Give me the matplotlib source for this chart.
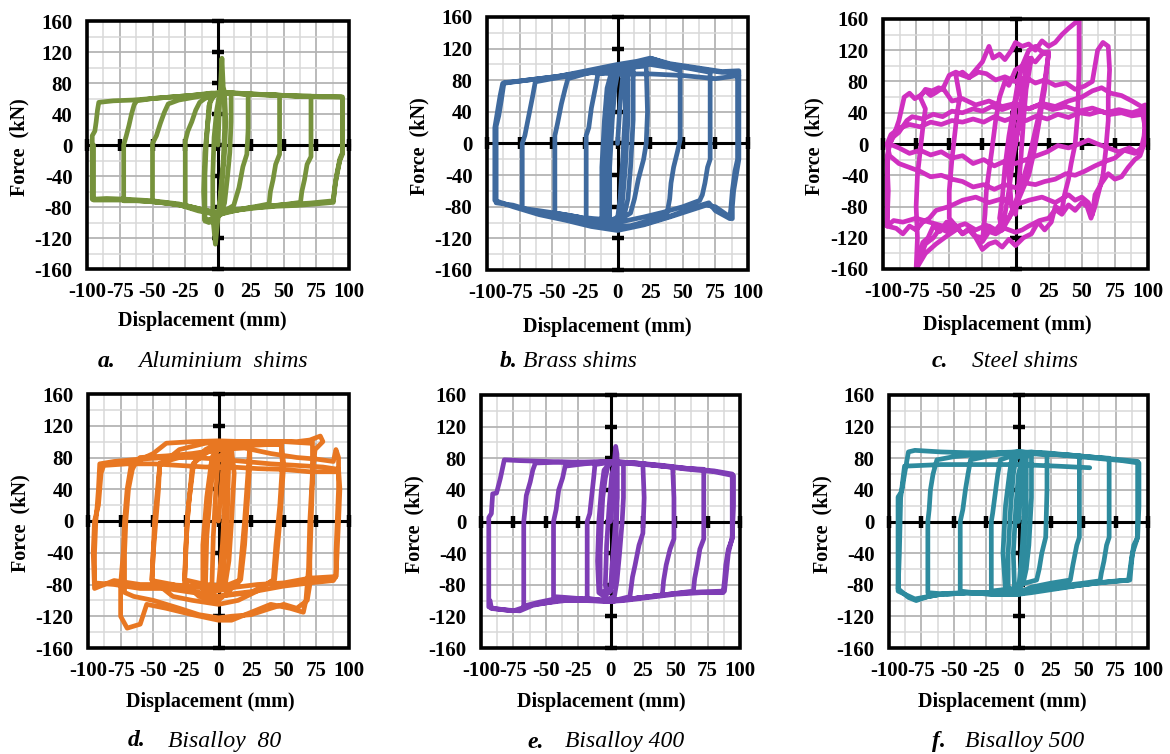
import numpy as np
import matplotlib
matplotlib.use("Agg")
import matplotlib.pyplot as plt
from matplotlib.patches import Rectangle

# ---------------- data (displacement mm, force kN) ----------------
aluminium = [
    (0, 0), (1, 45), (3, 112), (4, 75), (5, 68), (5, 20), (4, -20), (2, -60), (0, -95), (-2, -128),
    (-3, -110), (-4, -92), (-4, -40), (-3, 10), (-1, 45), (1, 65), (5, 68), (6, 30), (5, -10), (3, -50),
    (1, -85), (-3, -98), (-7, -100), (-10, -98), (-10, -40), (-9, 0), (-8, 25), (-7, 50), (-5, 62), (0, 67),
    (5, 68), (10, 67), (10, 30), (9, -10), (7, -45), (5, -75), (2, -90), (-3, -95), (-10, -97), (-11, -60),
    (-10, -10), (-8, 25), (-6, 55), (-3, 64), (5, 68), (12, 67), (23, 65), (23, 20), (22, -12), (19, -28),
    (16, -55), (12, -78), (5, -85), (0, -88), (-8, -86), (-15, -82), (-25, -78), (-25, -30), (-25, 5),
    (-23, 18), (-20, 30), (-17, 45), (-14, 55), (-10, 60), (-5, 63), (0, 66), (10, 67), (25, 66), (35, 65),
    (47, 64), (47, 20), (47, -12), (44, -25), (42, -45), (40, -60), (39, -76), (30, -79), (20, -82),
    (10, -86), (0, -90), (-10, -86), (-25, -79), (-38, -75), (-50, -73), (-50, -30), (-50, 2), (-47, 12),
    (-44, 28), (-41, 42), (-38, 53), (-30, 58), (-20, 61), (-10, 64), (0, 67), (15, 67), (30, 65), (50, 64),
    (60, 63), (71, 63), (71, 20), (71, -15), (68, -25), (66, -45), (64, -60), (63, -74), (50, -77), (40, -79),
    (25, -81), (10, -84), (0, -87), (-15, -83), (-30, -77), (-45, -74), (-60, -72), (-72, -72), (-72, -30),
    (-72, 0), (-70, 12), (-68, 25), (-66, 40), (-64, 52), (-62, 57), (-50, 60), (-35, 62), (-20, 64), (0, 67),
    (20, 66), (40, 65), (60, 63), (80, 62), (94, 62), (95, 60), (95, 20), (95, -10), (93, -18), (91, -35),
    (89, -55), (88, -74), (75, -76), (60, -78), (45, -79), (30, -81), (15, -84), (0, -88), (-15, -82),
    (-30, -76), (-50, -72), (-70, -70), (-85, -69), (-96, -70), (-96, -30), (-96, 12), (-94, 18), (-93, 30),
    (-92, 45), (-91, 55), (-80, 57), (-65, 58), (-50, 60), (-35, 62), (-20, 64), (-5, 67), (10, 67),
    (30, 65), (50, 64), (70, 63), (94, 62), (95, 62), (95, 20), (95, -12), (93, -20), (90, -45), (88, -72),
    (70, -75), (50, -77), (30, -80), (10, -85), (0, -90), (-15, -85), (-30, -77), (-50, -73), (-70, -71),
    (-95, -71), (-95, 0),
]

brass = [
    (0, 0), (2, 50), (4, 85), (6, 90), (6, 40), (4, -20), (2, -70), (0, -95), (-4, -98), (-6, -95),
    (-6, -30), (-4, 30), (-2, 70), (0, 88), (5, 92), (8, 92), (8, 30), (6, -30), (4, -70), (2, -92),
    (-5, -97), (-9, -95), (-9, -30), (-7, 30), (-5, 70), (-2, 88), (5, 92), (12, 93), (12, 30), (10, -30),
    (8, -70), (5, -92), (-5, -98), (-12, -95), (-12, -30), (-10, 30), (-8, 70), (-5, 88), (5, 95),
    (15, 97), (22, 98), (23, 40), (22, 0), (20, -20), (16, -45), (13, -70), (10, -88), (0, -98), (-10, -96),
    (-18, -95), (-24, -94), (-24, -30), (-24, 10), (-22, 20), (-20, 45), (-17, 70), (-15, 88), (-8, 90),
    (0, 95), (10, 97), (25, 100), (40, 96), (48, 92), (48, 40), (48, 5), (46, -10), (43, -30), (41, -50),
    (40, -70), (38, -88), (25, -97), (10, -104), (0, -105), (-15, -100), (-30, -93), (-48, -88), (-48, -30),
    (-48, 10), (-46, 25), (-43, 50), (-40, 70), (-38, 82), (-25, 88), (-10, 93), (0, 97), (15, 100),
    (25, 103), (40, 99), (55, 95), (71, 90), (71, 40), (71, -20), (69, -30), (67, -50), (65, -65), (63, -72),
    (50, -80), (35, -87), (20, -93), (0, -100), (-20, -96), (-40, -90), (-60, -85), (-73, -82), (-73, -30),
    (-73, 0), (-71, 10), (-68, 35), (-65, 60), (-63, 78), (-50, 82), (-35, 86), (-20, 90), (0, 96),
    (20, 103), (27, 107), (40, 100), (60, 95), (80, 90), (92, 90), (92, 40), (92, -20), (90, -35),
    (88, -60), (87, -80), (86, -95), (75, -85), (70, -75), (60, -80), (40, -92), (20, -102), (0, -108),
    (-20, -102), (-40, -95), (-60, -88), (-80, -78), (-93, -75), (-93, -30), (-93, 22), (-91, 35),
    (-89, 55), (-87, 77), (-75, 79), (-60, 82), (-45, 85), (-30, 90), (-15, 95), (0, 100), (15, 104),
    (25, 108), (40, 101), (60, 96), (80, 91), (93, 92), (93, 40), (93, -20), (91, -40), (89, -60),
    (88, -80), (88, -95), (75, -80), (68, -78), (55, -85), (40, -93), (20, -103), (0, -110), (-20, -105),
    (-40, -97), (-60, -90), (-80, -80), (-94, -72), (-94, 0), (-94, 20), (-92, 40), (-90, 60), (-88, 76),
    (-70, 80), (-50, 84), (-25, 90), (0, 88), (25, 88), (50, 86), (75, 82), (93, 86),
]

steel = [
    (0, 0), (3, 30), (5, 60), (3, 80), (0, 50), (-3, 0), (-5, -40), (-3, -80), (0, -90), (2, -60), (4, -20),
    (6, 30), (8, 70), (10, 90), (12, 110), (8, 100), (5, 60), (2, 20), (-2, -20), (-5, -60), (-8, -90),
    (-10, -110), (-12, -95), (-10, -70), (-8, -30), (-5, 10), (-2, 40), (2, 80), (5, 100), (10, 120),
    (15, 125), (20, 118), (25, 115), (22, 80), (18, 40), (14, 10), (10, -20), (5, -50), (0, -75), (-5, -95),
    (-10, -110), (-15, -115), (-20, -112), (-25, -125), (-23, -90), (-22, -60), (-18, -10), (-15, 30),
    (-12, 60), (-8, 80), (-5, 75), (0, 95), (5, 100), (10, 110), (15, 105), (20, 115), (25, 118),
    (22, 70), (18, 30), (14, -10), (10, -40), (5, -60), (0, -80), (-5, -95), (-10, -100), (-15, -110),
    (-20, -105), (-25, -120), (-30, -118), (-35, -108), (-40, -115), (-45, -105), (-50, -95),
    (-50, -60), (-48, -20), (-46, 10), (-44, 40), (-42, 60), (-45, 88), (-40, 92), (-35, 85), (-30, 95),
    (-25, 105), (-20, 125), (-17, 110), (-12, 115), (-8, 108), (-3, 120), (0, 130), (5, 125), (10, 128),
    (15, 120), (20, 132), (25, 125), (30, 130), (35, 140), (40, 148), (45, 155), (48, 160), (48, 100),
    (47, 40), (45, 0), (42, -25), (40, -45), (37, -65), (35, -85), (30, -80), (27, -100), (22, -110),
    (17, -100), (12, -115), (6, -120), (0, -130), (-5, -122), (-10, -132), (-15, -125), (-20, -128),
    (-25, -135), (-30, -120), (-35, -110), (-40, -115), (-45, -105), (-52, -112), (-57, -108),
    (-62, -120), (-68, -128), (-75, -160), (-74, -120), (-75, -80), (-74, -40), (-72, -10), (-70, 20),
    (-68, 45), (-72, 60), (-68, 70), (-63, 68), (-58, 72), (-55, 70), (-50, 88), (-45, 92), (-40, 88),
    (-35, 85), (-28, 92), (-22, 90), (-15, 82), (-8, 86), (0, 80), (8, 85), (15, 78), (22, 82), (30, 75),
    (38, 78), (45, 70), (52, 74), (58, 80), (62, 120), (66, 130), (70, 125), (71, 95), (70, 60), (70, 30),
    (68, -10), (66, -40), (63, -60), (60, -80), (57, -95), (54, -80), (50, -75), (45, -85), (40, -78),
    (35, -90), (30, -84), (25, -95), (18, -98), (10, -105), (5, -110), (0, -113), (-8, -108),
    (-15, -112), (-22, -104), (-30, -110), (-38, -102), (-45, -106), (-52, -100), (-57, -112),
    (-62, -105), (-66, -120), (-70, -126), (-75, -160), (-68, -140), (-60, -128), (-52, -118),
    (-45, -110), (-55, -105), (-65, -100), (-75, -95), (-85, -100), (-92, -98), (-97, -105),
    (-96, -60), (-97, -20), (-95, 0), (-92, 10), (-88, 30), (-84, 60), (-80, 65), (-76, 58), (-72, 62),
    (-68, 68), (-64, 62), (-60, 66), (-55, 72), (-48, 55), (-40, 58), (-30, 50), (-20, 55), (-10, 48),
    (0, 52), (10, 45), (20, 52), (30, 48), (40, 55), (50, 60), (58, 68), (65, 72), (72, 65), (80, 62),
    (88, 55), (95, 48), (98, 50), (98, 20), (97, 0), (94, -15), (90, -20), (85, -30), (80, -42), (75, -45),
    (70, -38), (65, -50), (60, -65), (58, -90), (55, -75), (50, -68), (45, -72), (40, -65), (30, -75),
    (20, -68), (10, -72), (0, -78), (-10, -70), (-20, -75), (-30, -68), (-40, -72), (-50, -80),
    (-60, -85), (-65, -95), (-70, -100), (-75, -110), (-80, -105), (-85, -115), (-90, -108),
    (-97, -105), (-97, -40), (-96, -5), (-93, 8), (-88, 15), (-82, 30), (-78, 35), (-70, 32), (-62, 38),
    (-55, 35), (-48, 42), (-40, 40), (-32, 45), (-25, 42), (-18, 48), (-10, 44), (0, 50), (10, 45),
    (18, 50), (28, 44), (38, 48), (48, 42), (58, 46), (68, 40), (78, 44), (88, 40), (97, 45), (98, 30),
    (97, 10), (95, -5), (90, -12), (82, -8), (75, -18), (68, -22), (60, -28), (52, -35), (45, -40),
    (38, -38), (30, -45), (22, -48), (15, -52), (8, -50), (0, -56), (-8, -52), (-16, -58), (-24, -52),
    (-32, -55), (-40, -48), (-48, -45), (-56, -40), (-64, -42), (-72, -35), (-80, -30), (-88, -25),
    (-95, -15), (-97, 0), (-94, 12), (-88, 20), (-80, 25), (-72, 22), (-64, 28), (-56, 25), (-48, 30),
    (-40, 28), (-32, 32), (-24, 28), (-16, 35), (-8, 30), (0, 35), (8, 30), (16, 36), (24, 32), (32, 38),
    (40, 34), (48, 40), (56, 38), (64, 42), (72, 38), (80, 40), (88, 36), (96, 38), (98, 20), (97, 0),
    (93, -12), (86, -5), (78, -10), (70, -5), (62, 0), (55, 5), (48, 0), (40, -5), (32, -2), (24, -10),
    (16, -15), (8, -20), (0, -25), (-8, -22), (-16, -28), (-24, -20), (-32, -25), (-40, -15), (-48, -18),
    (-56, -10), (-64, -14), (-72, -8), (-80, -12), (-88, -5), (-95, 0),
]

bisalloy80 = [
    (0, 0), (2, 40), (4, 80), (6, 90), (5, 30), (3, -30), (0, -80), (-3, -85), (-5, -80), (-4, -20), (-2, 40),
    (0, 80), (5, 88), (8, 85), (7, 20), (5, -40), (2, -80), (-5, -85), (-10, -82), (-9, -20), (-6, 40),
    (-3, 80), (0, 92), (10, 90), (12, 60), (10, 0), (8, -50), (5, -82), (-5, -90), (-12, -85), (-12, -30),
    (-9, 30), (-5, 80), (0, 95), (10, 95), (24, 92), (24, 72), (22, 20), (20, -30), (17, -74), (5, -82),
    (-10, -80), (-26, -74), (-25, -30), (-23, 20), (-19, 73), (-10, 85), (0, 95), (12, 97), (24, 95),
    (23, 70), (20, 0), (16, -76), (0, -100), (-15, -95), (-26, -78), (-24, 0), (-20, 70), (-10, 90),
    (0, 98), (15, 100), (30, 98), (48, 96), (49, 72), (47, 20), (44, -30), (42, -74), (30, -88),
    (15, -100), (0, -105), (-20, -100), (-35, -95), (-51, -74), (-50, -40), (-48, 0), (-46, 40), (-45, 73),
    (-30, 80), (-15, 85), (0, 90), (20, 95), (48, 97), (50, 72), (47, 0), (43, -74), (25, -90), (0, -95),
    (-20, -88), (-35, -80), (-51, -75), (-49, 0), (-45, 70), (-30, 90), (-10, 98), (10, 100), (30, 100),
    (50, 100), (70, 98), (72, 100), (72, 50), (71, 0), (70, -50), (70, -80), (68, -100), (60, -110),
    (50, -105), (40, -110), (25, -118), (10, -120), (0, -122), (-15, -118), (-30, -110), (-50, -100),
    (-65, -95), (-72, -90), (-72, -40), (-71, 0), (-69, 40), (-66, 65), (-63, 75), (-50, 85), (-40, 98),
    (-20, 100), (0, 101), (20, 100), (40, 100), (60, 100), (70, 102), (78, 107), (80, 100), (74, 90),
    (72, 60), (70, 0), (69, -60), (67, -100), (65, -115), (55, -110), (40, -105), (25, -115), (10, -125),
    (0, -125), (-20, -118), (-40, -110), (-55, -105), (-60, -130), (-70, -135), (-75, -120), (-75, -80),
    (-73, -40), (-72, 0), (-70, 40), (-67, 70), (-60, 80), (-40, 82), (-20, 85), (0, 90), (20, 92),
    (40, 85), (60, 80), (75, 78), (88, 75), (90, 90), (92, 80), (92, 40), (91, 0), (90, -40), (90, -70),
    (88, -75), (70, -78), (50, -82), (30, -88), (10, -92), (0, -95), (-20, -90), (-40, -85), (-60, -85),
    (-80, -80), (-95, -78), (-95, -40), (-94, 0), (-93, 18), (-92, 40), (-91, 72), (-80, 75), (-60, 78),
    (-40, 80), (-20, 80), (0, 78), (20, 75), (40, 72), (60, 70), (80, 68), (92, 65), (93, 40), (92, 0),
    (90, -70), (70, -72), (50, -78), (30, -80), (10, -84), (0, -88), (-20, -82), (-40, -80), (-60, -80),
    (-80, -75), (-95, -85), (-96, -40), (-95, 0), (-92, 20), (-90, 60), (-88, 70), (-70, 72), (-50, 72),
    (-30, 70), (-10, 68), (10, 68), (30, 66), (50, 65), (70, 62), (90, 62),
]

bisalloy400 = [
    (0, 0), (2, 40), (3, 75), (4, 95), (5, 85), (5, 30), (3, -20), (1, -60), (0, -88), (-3, -92), (-4, -80),
    (-3, -30), (-1, 20), (1, 60), (4, 75), (5, 72), (5, 20), (4, -40), (2, -80), (-2, -90), (-8, -88),
    (-8, -40), (-7, 0), (-6, 30), (-4, 55), (-2, 70), (0, 74), (6, 74), (10, 72), (10, 30), (9, 0),
    (7, -40), (5, -75), (3, -95), (-2, -98), (-9, -90), (-10, -50), (-9, 0), (-7, 40), (-5, 65), (0, 75),
    (10, 74), (25, 72), (26, 30), (25, -15), (22, -30), (19, -55), (17, -70), (15, -95), (0, -101),
    (-10, -99), (-18, -97), (-18, -40), (-18, 0), (-16, 10), (-14, 40), (-13, 55), (-12, 72), (0, 75),
    (15, 74), (30, 72), (48, 69), (49, 30), (49, -22), (46, -35), (43, -55), (41, -75), (40, -93),
    (25, -96), (10, -99), (0, -101), (-20, -98), (-35, -96), (-44, -95), (-44, -40), (-44, 0), (-42, 15),
    (-40, 40), (-37, 55), (-35, 70), (-20, 73), (0, 75), (20, 73), (40, 70), (60, 67), (72, 66), (72, 30),
    (72, -22), (69, -35), (67, -55), (65, -72), (64, -88), (50, -91), (30, -95), (10, -99), (0, -100),
    (-20, -98), (-40, -97), (-55, -102), (-67, -107), (-67, -40), (-67, 0), (-66, 15), (-65, 33),
    (-62, 50), (-60, 65), (-58, 74), (-40, 75), (-20, 75), (0, 76), (20, 74), (40, 71), (60, 67),
    (80, 64), (94, 60), (94, 30), (94, -22), (91, -35), (89, -55), (88, -75), (87, -90), (70, -90),
    (50, -92), (30, -96), (10, -100), (0, -101), (-20, -100), (-40, -100), (-60, -106), (-70, -113),
    (-80, -112), (-90, -110), (-94, -108), (-94, -60), (-94, 5), (-92, 10), (-91, 35), (-88, 36),
    (-85, 55), (-82, 78), (-70, 77), (-50, 76), (-30, 75), (-10, 75), (0, 76), (20, 74), (40, 70),
    (60, 66), (80, 63), (95, 58), (95, 20), (94, -20), (91, -40), (88, -88), (70, -89), (50, -91),
    (30, -95), (0, -101), (-30, -99), (-60, -105), (-75, -113), (-92, -110), (-93, -100),
]

bisalloy500 = [
    (0, 0), (2, 40), (4, 80), (5, 85), (5, 30), (3, -30), (1, -70), (0, -85), (-3, -88), (-4, -40), (-2, 20),
    (0, 60), (3, 80), (6, 82), (6, 20), (4, -40), (2, -75), (-2, -85), (-8, -88), (-8, -40), (-6, 20),
    (-4, 60), (-2, 80), (3, 85), (10, 83), (10, 30), (8, -30), (6, -60), (4, -75), (0, -88), (-10, -88),
    (-12, -40), (-10, 20), (-7, 60), (-5, 82), (0, 87), (10, 86), (22, 84), (22, 40), (21, -20),
    (18, -40), (16, -60), (14, -74), (5, -78), (-5, -85), (-21, -88), (-21, -30), (-21, 0), (-20, 10),
    (-18, 35), (-16, 60), (-14, 78), (0, 86), (10, 88), (25, 85), (47, 83), (47, 40), (47, -20),
    (45, -30), (42, -55), (40, -74), (25, -78), (10, -83), (0, -90), (-20, -90), (-35, -90), (-45, -88),
    (-45, -40), (-45, 0), (-43, 15), (-41, 40), (-39, 60), (-37, 78), (-20, 84), (0, 88), (20, 86),
    (40, 84), (60, 81), (70, 80), (70, 40), (70, -20), (68, -30), (66, -50), (64, -65), (63, -75),
    (50, -78), (30, -82), (10, -88), (0, -92), (-20, -92), (-40, -90), (-55, -92), (-70, -90), (-70, -40),
    (-70, 0), (-69, 15), (-68, 40), (-66, 60), (-63, 78), (-50, 82), (-30, 85), (0, 88), (20, 87),
    (40, 84), (60, 81), (80, 78), (92, 76), (92, 40), (92, -20), (89, -30), (87, -50), (85, -74),
    (70, -76), (50, -80), (30, -85), (10, -90), (0, -92), (-20, -92), (-40, -90), (-56, -91), (-70, -95),
    (-79, -100), (-85, -96), (-93, -85), (-93, -20), (-93, 31), (-91, 36), (-90, 40), (-88, 60),
    (-85, 88), (-80, 90), (-60, 88), (-40, 87), (-20, 87), (0, 88), (20, 86), (40, 83), (60, 80),
    (80, 77), (93, 74), (93, 20), (92, -20), (88, -40), (86, -74), (60, -78), (30, -84), (0, -90),
    (-30, -90), (-60, -92), (-80, -98), (-93, -88), (-92, -40), (-91, 30), (-88, 70), (-60, 72),
    (-30, 72), (0, 72), (30, 70), (55, 68),
]

series = [aluminium, brass, steel, bisalloy80, bisalloy400, bisalloy500]
letters = ["a.", "b.", "c.", "d.", "e.", "f."]
names = ["Aluminium  shims", "Brass shims", "Steel shims", "Bisalloy  80", "Bisalloy 400", "Bisalloy 500"]
colors = ["#76923C", "#3F6A9E", "#D030C0", "#E87722", "#7E3DB5", "#2E8B9E"]

x_ticks = [-100, -75, -50, -25, 0, 25, 50, 75, 100]
y_ticks = [-160, -120, -80, -40, 0, 40, 80, 120, 160]
x_tick_labels = ["-100", "-75", "-50", "-25", "0", "25", "50", "75", "100"]
y_tick_labels = ["-160", "-120", "-80", "-40", "0", "40", "80", "120", "160"]

# ---------------- layout (pixels) ----------------
W, H = 1170, 754
panels_px = [  # left, top, right, bottom
    (87, 21, 349, 269), (487, 17, 748, 270), (883, 19, 1148, 269),
    (88, 394, 349, 648), (481, 395, 740, 648), (889, 395, 1148, 648),
]
xlabel_pos = [(0.44, -0.21), (0.46, -0.226), (0.468, -0.224),
              (0.47, -0.213), (0.463, -0.213), (0.436, -0.213)]
caption_px = [  # letter x, name x, y
    (98, 138, 362), (500, 523, 362), (932, 972, 362),
    (128, 168, 741), (527, 565, 742), (932, 965, 742),
]

SERIF = "Liberation Serif"
fig = plt.figure(figsize=(W / 100, H / 100), dpi=100)
fig.patch.set_facecolor("white")

for i, data in enumerate(series):
    l, t, r, b = panels_px[i]
    rect = [l / W, 1 - b / H, (r - l) / W, (b - t) / H]

    # label axes (outer tick labels)
    axl = fig.add_axes(rect, frameon=False)
    axl.set_xlim(-100, 100)
    axl.set_ylim(-160, 160)
    axl.set_xticks(x_ticks)
    axl.set_xticklabels(x_tick_labels)
    axl.set_yticks(y_ticks)
    axl.set_yticklabels(y_tick_labels)
    axl.tick_params(length=0, pad=9.5)
    axl.tick_params(axis="y", pad=10.5)
    for lab in axl.get_xticklabels() + axl.get_yticklabels():
        lab.set_fontfamily(SERIF)
        lab.set_fontweight("bold")
        lab.set_fontsize(15)
    axl.patch.set_alpha(0)

    ax = fig.add_axes(rect)
    ax.set_xlim(-100, 100)
    ax.set_ylim(-160, 160)
    ax.set_xticks(x_ticks)
    ax.set_yticks(y_ticks)
    ax.set_xticks(np.arange(-100, 101, 12.5), minor=True)
    ax.set_yticks(np.arange(-160, 161, 20), minor=True)
    ax.grid(which="major", color="#b4b4b4", lw=1.3)
    ax.grid(which="minor", color="#d9d9d9", lw=1.1)
    ax.set_axisbelow(True)
    ax.spines["left"].set_position(("data", 0))
    ax.spines["bottom"].set_position(("data", 0))
    ax.spines["top"].set_visible(False)
    ax.spines["right"].set_visible(False)
    for s in ("left", "bottom"):
        ax.spines[s].set_linewidth(2.2)
        ax.spines[s].set_zorder(1.5)
    ax.tick_params(which="major", direction="inout", length=9, width=3.2,
                   labelbottom=False, labelleft=False, color="black")
    ax.tick_params(which="minor", length=0)

    xy = np.array(data, dtype=float)
    ax.plot(xy[:, 0], xy[:, 1], color=colors[i], lw=3.4, solid_joinstyle="round",
            solid_capstyle="round", zorder=3)

    ax.add_patch(Rectangle((0, 0), 1, 1, transform=ax.transAxes, fill=False,
                           lw=2.6, edgecolor="black", zorder=5, clip_on=False))

    ax.text(-0.258, 0.49, "Force  (kN)", transform=ax.transAxes, rotation=90,
            ha="center", va="center", fontfamily=SERIF, fontweight="bold", fontsize=14.5)
    xlx, xly = xlabel_pos[i]
    ax.text(xlx, xly, "Displacement (mm)", transform=ax.transAxes,
            ha="center", va="center", fontfamily=SERIF, fontweight="bold", fontsize=14.5)

    lx, nx, cy = caption_px[i]
    fig.text(lx / W, 1 - cy / H, letters[i], ha="left", va="center",
             fontfamily=SERIF, fontweight="bold", fontstyle="italic", fontsize=17)
    fig.text(nx / W, 1 - cy / H, names[i], ha="left", va="center",
             fontfamily=SERIF, fontstyle="italic", fontsize=17)

fig.savefig("out.png", dpi=100, facecolor="white")
